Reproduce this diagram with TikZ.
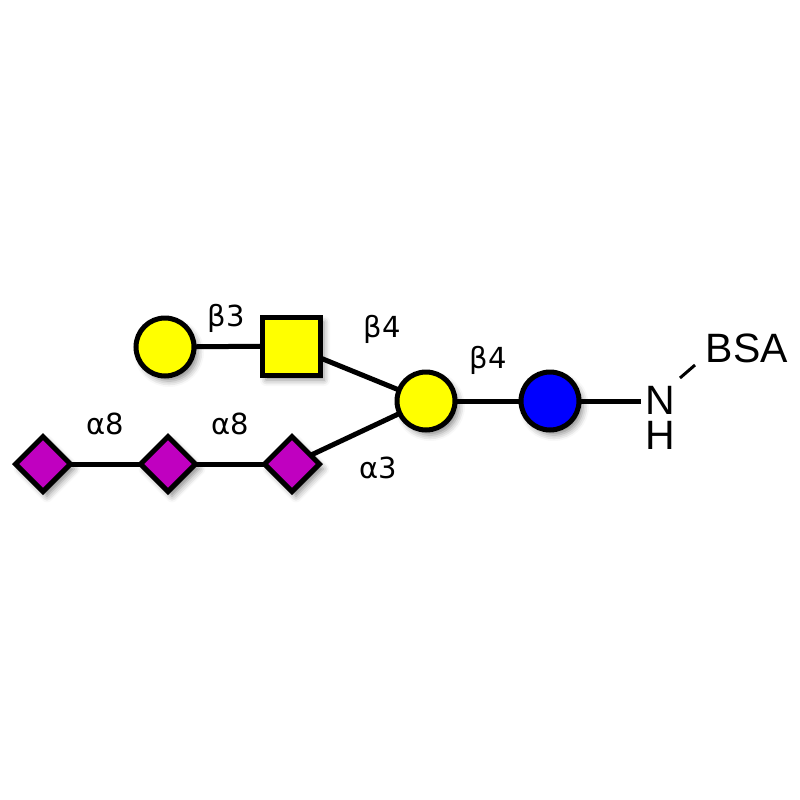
\documentclass[tikz,border=0pt]{standalone}
\usepackage{fontspec}
\setmainfont{DejaVu Sans}
\newfontfamily\arialf{Liberation Sans}
\usetikzlibrary{shapes.geometric,shadows.blur}
\definecolor{galY}{RGB}{255,255,0}
\definecolor{glcB}{RGB}{0,0,255}
\definecolor{neuM}{RGB}{192,0,192}
\tikzset{
  sh/.style={blur shadow={shadow xshift=4pt,shadow yshift=-5pt,shadow blur radius=6pt,shadow opacity=45}},
  res/.style={draw=black,line width=5pt,inner sep=0pt,sh},
  circ/.style={res,circle,minimum size=58pt},
  sq/.style={res,rectangle,minimum size=58pt},
  dia/.style={res,diamond,minimum width=57pt,minimum height=57pt},
  bond/.style={line width=5pt,black},
  lab/.style={font=\fontsize{29}{32}\selectfont,inner sep=0pt,text height=21.2pt,text depth=0pt},
  atom/.style={font=\arialf\fontsize{41}{35}\selectfont,inner sep=0pt}
}
\begin{document}
\begin{tikzpicture}[x=1pt,y=-1pt]
\useasboundingbox (0,0) rectangle (800,800);
\coordinate (cGal1) at (165,347);
\coordinate (cSq) at (291,346);
\coordinate (cGal2) at (426,401);
\coordinate (cGlc) at (550,401);
\coordinate (cD1) at (43,464);
\coordinate (cD2) at (168,464);
\coordinate (cD3) at (292,464);
\coordinate (nend) at (641,401);
\node[atom,align=center,anchor=base] (NH) at (660,449) {N\\H};
\node[atom,anchor=base] (BSA) at (747,362) {BSA};
\coordinate (nb1) at (680,378);
\coordinate (nb2) at (695,365);
\draw[bond] (cGal1) -- (cSq);
\draw[bond] (cSq) -- (cGal2);
\draw[bond] (cD1) -- (cD2) -- (cD3);
\draw[bond] (cD3) -- (cGal2);
\draw[bond] (cGal2) -- (cGlc);
\draw[bond] (cGlc) -- (nend);
\draw[line width=3pt] (nb1) -- (nb2);
% residues
\node[circ,fill=galY] (gal1) at (cGal1) {};
\node[sq,fill=galY] (galnac) at (cSq) {};
\node[circ,fill=galY] (gal2) at (cGal2) {};
\node[circ,fill=glcB] (glc) at (cGlc) {};
\node[dia,fill=neuM] (neu1) at (cD1) {};
\node[dia,fill=neuM] (neu2) at (cD2) {};
\node[dia,fill=neuM] (neu3) at (cD3) {};
% labels
\node[lab] (l1) at (226,315.5) {β3};
\node[lab] (l2) at (382,327) {β4};
\node[lab] (l3) at (488,358) {β4};
\node[lab] (l4) at (105,424) {α8};
\node[lab] (l5) at (230,424) {α8};
\node[lab] (l6) at (378,468) {α3};
\end{tikzpicture}
\end{document}
